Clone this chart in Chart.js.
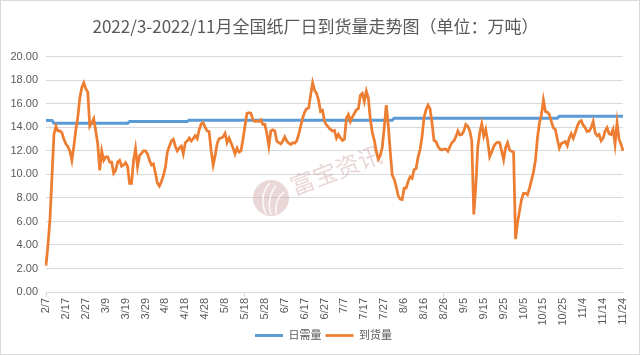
<!DOCTYPE html>
<html><head><meta charset="utf-8">
<script src="https://cdn.jsdelivr.net/npm/chart.js@4.4.0/dist/chart.umd.min.js"></script>
<style>
html,body{margin:0;padding:0;background:#fff;}
#wrap{position:relative;width:640px;height:355px;}
#frame{position:absolute;left:0;top:0;width:640px;height:355px;box-sizing:border-box;border:1px solid #d9d9d9;pointer-events:none;}
</style></head><body>
<div id="wrap"><canvas id="c" width="640" height="355"></canvas><div id="frame"></div></div>
<script>
const titleText = '2022/3-2022/11月全国纸厂日到货量走势图（单位：万吨）';
const seriesNames = ['日需量', '到货量'];
const tickLabels = ['2/7','2/17','2/27','3/9','3/19','3/29','4/8','4/18','4/28','5/8','5/18','5/28','6/7','6/17','6/27','7/7','7/17','7/27','8/6','8/16','8/26','9/5','9/15','9/25','10/5','10/15','10/25','11/4','11/14','11/24'];

// 日需量 (daily demand), one value per day from 2/7
const demand = [
14.6,14.6,14.6,14.6,14.35,14.35,14.35,14.35,14.35,14.35,
14.35,14.35,14.35,14.35,14.35,14.35,14.35,14.35,14.35,14.35,
14.35,14.35,14.35,14.35,14.35,14.35,14.35,14.35,14.35,14.35,
14.35,14.35,14.35,14.35,14.35,14.35,14.35,14.35,14.35,14.35,
14.35,14.35,14.5,14.5,14.5,14.5,14.5,14.5,14.5,14.5,
14.5,14.5,14.5,14.5,14.5,14.5,14.5,14.5,14.5,14.5,
14.5,14.5,14.5,14.5,14.5,14.5,14.5,14.5,14.5,14.5,
14.5,14.5,14.62,14.62,14.62,14.62,14.62,14.62,14.62,14.62,
14.62,14.62,14.62,14.62,14.62,14.62,14.62,14.62,14.62,14.62,
14.62,14.62,14.62,14.62,14.62,14.62,14.62,14.62,14.62,14.62,
14.62,14.62,14.62,14.62,14.62,14.62,14.62,14.62,14.62,14.62,
14.62,14.62,14.62,14.62,14.62,14.62,14.62,14.62,14.62,14.62,
14.62,14.62,14.62,14.62,14.62,14.62,14.62,14.62,14.62,14.62,
14.62,14.62,14.62,14.62,14.62,14.62,14.62,14.62,14.62,14.62,
14.62,14.62,14.62,14.62,14.62,14.62,14.62,14.62,14.62,14.62,
14.62,14.62,14.62,14.62,14.62,14.62,14.62,14.62,14.62,14.62,
14.62,14.62,14.62,14.62,14.62,14.62,14.62,14.62,14.62,14.62,
14.62,14.62,14.62,14.62,14.62,14.78,14.78,14.78,14.78,14.78,
14.78,14.78,14.78,14.78,14.78,14.78,14.78,14.78,14.78,14.78,
14.78,14.78,14.78,14.78,14.78,14.78,14.78,14.78,14.78,14.78,
14.78,14.78,14.78,14.78,14.78,14.78,14.78,14.78,14.78,14.78,
14.78,14.78,14.78,14.78,14.78,14.78,14.78,14.78,14.78,14.78,
14.78,14.78,14.78,14.78,14.78,14.78,14.78,14.78,14.78,14.78,
14.78,14.78,14.78,14.78,14.78,14.78,14.78,14.78,14.78,14.78,
14.78,14.78,14.78,14.78,14.78,14.78,14.78,14.78,14.78,14.78,
14.78,14.78,14.78,14.78,14.78,14.78,14.78,14.78,14.95,14.95,
14.95,14.95,14.95,14.95,14.95,14.95,14.95,14.95,14.95,14.95,
14.95,14.95,14.95,14.95,14.95,14.95,14.95,14.95,14.95,14.95,
14.95,14.95,14.95,14.95,14.95,14.95,14.95,14.95,14.95,14.95,
14.95
];

// 到货量 (daily arrivals), one value per day from 2/7
const arrivals = [
2.25,4.0,6.2,9.8,13.4,14.1,13.7,13.7,13.55,13.0,
12.6,12.36,12.0,11.2,12.4,13.8,14.9,16.5,17.4,17.8,
17.3,17.0,14.1,14.4,14.75,13.7,12.6,10.35,12.0,11.2,
11.5,11.5,11.05,11.05,10.1,10.35,11.05,11.2,10.7,10.8,
11.0,10.7,9.25,9.25,11.2,12.2,10.65,11.6,11.8,12.0,
12.0,11.75,11.2,10.8,10.9,10.1,9.25,9.0,9.4,9.9,
10.6,11.9,12.4,12.85,13.0,12.4,12.0,12.25,12.4,11.75,
12.7,12.85,13.1,12.85,13.05,13.3,13.05,13.8,14.3,14.4,
14.0,13.7,13.65,12.0,10.8,11.6,12.6,13.05,13.1,13.2,
13.5,12.7,13.1,12.7,12.25,11.75,12.25,11.9,12.0,13.0,
14.1,15.2,15.25,15.2,14.65,14.5,14.55,14.5,14.65,14.25,
14.25,13.5,12.4,13.7,13.8,13.7,12.85,12.7,12.6,12.85,
13.2,12.85,12.65,12.55,12.7,12.65,12.85,13.4,14.1,14.8,
15.3,15.6,15.65,16.75,17.8,17.15,16.9,16.3,15.35,15.45,
14.5,14.2,14.0,13.83,13.7,13.75,13.08,13.4,13.1,12.9,
13.0,14.8,15.1,14.5,14.9,15.2,15.5,15.6,16.75,16.9,
16.2,17.08,16.5,14.7,13.55,12.9,12.0,11.3,11.6,12.3,
13.97,15.9,14.25,12.0,9.95,9.6,8.97,8.2,7.9,7.86,
8.83,8.83,9.4,9.8,9.67,10.4,10.5,11.47,12.1,13.2,
14.85,15.5,15.9,15.6,14.4,12.9,12.8,12.4,12.16,12.08,
12.16,12.16,11.97,12.36,12.7,12.86,13.2,13.7,13.36,13.4,
13.7,14.25,14.1,13.7,12.86,6.6,8.97,12.3,13.55,14.3,
13.27,13.83,12.86,11.5,11.9,12.36,12.64,12.75,12.7,12.0,
11.25,12.3,12.7,12.08,11.97,11.9,4.5,5.9,6.9,7.86,
8.4,8.4,8.28,8.83,9.5,10.2,11.2,13.1,14.4,15.08,
16.33,15.36,15.3,15.08,14.5,13.97,13.83,13.0,12.25,12.64,
12.72,12.8,12.44,13.1,13.47,13.08,13.55,14.1,14.47,14.58,
14.19,13.97,13.64,13.69,13.97,14.5,13.55,13.28,13.4,12.86,
13.08,13.69,13.97,13.47,13.4,13.83,12.58,14.4,13.0,12.58,
12.0
];

const yMin = 0, yMax = 20, yStep = 2;

// daily category labels starting 2022-02-07
const categories = [];
for (let i = 0; i < arrivals.length; i++) {
  const d = new Date(2022, 1, 7 + i);
  categories.push((d.getMonth() + 1) + '/' + d.getDate());
}

const FONT = "'Liberation Sans', 'Noto Sans CJK SC', sans-serif";
const GREY = '#595959';
const GRID = '#d9d9d9';

const watermark = {
  id: 'watermark',
  beforeDatasetsDraw(chart) {
    const ctx = chart.ctx;
    ctx.save();
    ctx.fillStyle = 'rgba(200,150,150,0.38)';
    ctx.beginPath(); ctx.arc(271, 198, 18, 0, Math.PI * 2); ctx.fill();
    ctx.strokeStyle = 'rgba(255,255,255,0.85)';
    ctx.lineWidth = 1.6;
    ctx.beginPath(); ctx.moveTo(266, 214); ctx.quadraticCurveTo(258, 196, 270, 183); ctx.stroke();
    ctx.beginPath(); ctx.moveTo(271, 215); ctx.quadraticCurveTo(266, 198, 276, 186); ctx.stroke();
    ctx.beginPath(); ctx.moveTo(276, 214); ctx.quadraticCurveTo(274, 200, 284, 192); ctx.stroke();
    ctx.translate(336, 170);
    ctx.rotate(-21 * Math.PI / 180);
    ctx.font = "24px 'Noto Sans CJK SC'";
    ctx.fillStyle = 'rgba(200,150,150,0.38)';
    ctx.textAlign = 'center';
    ctx.textBaseline = 'middle';
    ctx.fillText('富宝资讯', 0, 0);
    ctx.restore();
  }
};

// nudge the legend block horizontally to where the reference places it
const legendNudge = {
  id: 'legendNudge',
  afterLayout(chart) {
    const lg = chart.legend;
    if (!lg) return;
    lg.left += 8; lg.right += 8;
  }
};

new Chart(document.getElementById('c'), {
  type: 'line',
  data: {
    labels: categories,
    datasets: [
      { label: seriesNames[0], data: demand, borderColor: '#5B9BD5', backgroundColor: '#5B9BD5',
        borderWidth: 3, pointRadius: 0, pointHoverRadius: 0, tension: 0, order: 1 },
      { label: seriesNames[1], data: arrivals, borderColor: '#ED7D31', backgroundColor: '#ED7D31',
        borderWidth: 2.75, pointRadius: 0, pointHoverRadius: 0, tension: 0, order: 0 }
    ]
  },
  options: {
    responsive: false,
    animation: false,
    devicePixelRatio: 1,
    layout: { padding: { left: 8, right: 17, top: 0, bottom: 4 } },
    plugins: {
      title: { display: true, text: titleText, color: GREY,
        font: { family: "'Noto Sans CJK SC', sans-serif", size: 17, weight: 'normal' },
        padding: { top: 16.5, bottom: 20 } },
      legend: { position: 'bottom', reverse: true,
        labels: { usePointStyle: true, pointStyle: 'line', pointStyleWidth: 28, boxHeight: 11,
          color: GREY, padding: 4, font: { family: FONT, size: 11 } } },
      tooltip: { enabled: false }
    },
    scales: {
      x: {
        type: 'category', offset: false,
        grid: { display: true, drawOnChartArea: false, drawTicks: true, tickLength: 5,
          color: (c) => (tickLabels.includes(categories[c.index]) ? GRID : 'rgba(0,0,0,0)') },
        border: { display: true, color: GRID },
        ticks: { autoSkip: false, minRotation: 90, maxRotation: 90, padding: 1, color: GREY,
          font: { family: FONT, size: 11 },
          callback: (v, i) => (tickLabels.includes(categories[i]) ? categories[i] : null) },
        afterFit(s) { s.height = 34; }
      },
      y: {
        min: yMin, max: yMax,
        grid: { color: GRID, drawTicks: false },
        border: { display: false },
        ticks: { stepSize: yStep, padding: 8, color: GREY, font: { family: FONT, size: 11 },
          callback: (v) => Number(v).toFixed(2) },
        afterFit(s) { s.width = 38; }
      }
    }
  },
  plugins: [watermark, legendNudge]
});
</script>
</body></html>
